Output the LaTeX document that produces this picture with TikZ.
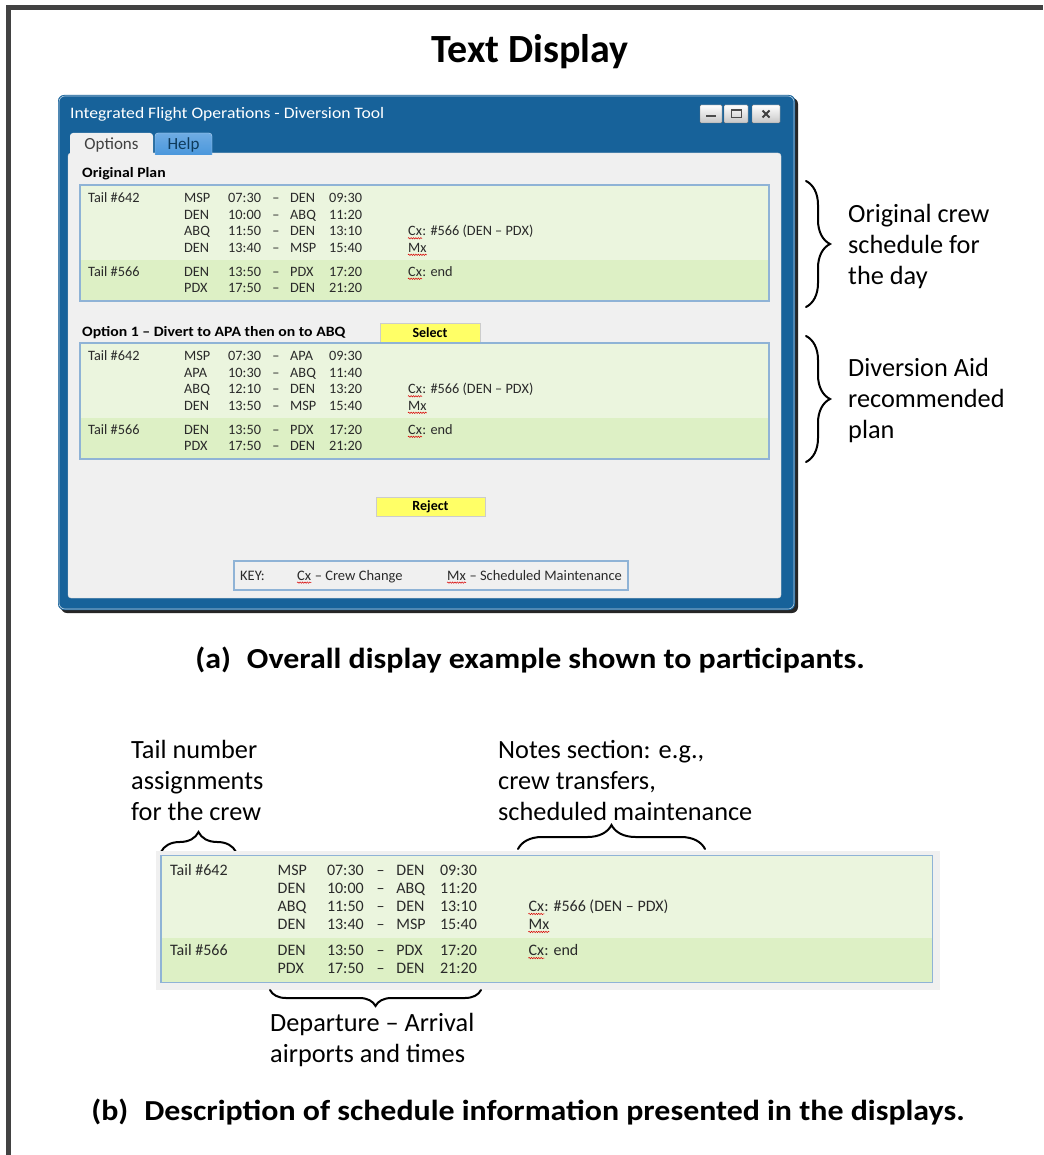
\documentclass[tikz,border=0pt]{standalone}
\usepackage{fontspec}
\setmainfont{Carlito}
\newfontfamily\widefont[FakeStretch=1.1]{Carlito}
\usetikzlibrary{decorations.pathreplacing,decorations.pathmorphing,calc}

\definecolor{framegray}{HTML}{424242}
\definecolor{winblue}{HTML}{17629A}
\definecolor{panelgray}{HTML}{F0F0F0}
\definecolor{rowlight}{HTML}{EBF5DE}
\definecolor{rowdark}{HTML}{DDF0C5}
\definecolor{tableedge}{HTML}{8FB3D6}
\definecolor{btnyellow}{HTML}{FFFF66}
\definecolor{helpblue}{HTML}{4A97DC}
\definecolor{uitext}{HTML}{2A2A2A}

% one flight leg: name, row y, departure, time, arrival, time
\newcommand\legrow[6]{%
  \node[cell] (#1a) at (96,{#2+4.7}) {#3};
  \node[cell] (#1b) at (140,{#2+4.7}) {#4};
  \node[cell, anchor=base] (#1c) at (188,{#2+4.7}) {–};
  \node[cell] (#1d) at (202,{#2+4.7}) {#5};
  \node[cell] (#1e) at (241,{#2+4.7}) {#6};}

% crew change note with spell-check squiggle under "Cx"
\newcommand\cxnote[4]{%
  \node[cell] (#1) at (#2,{#3+4.7}) {Cx};
  \node[cell, anchor=base west] (#1r) at (#1.base east) {#4};
  \draw[squiggle] ($(#1.base west)+(0,2.6)$) -- ($(#1.base east)+(0,2.6)$);}

% maintenance note with squiggle under "Mx"
\newcommand\mxnote[4]{%
  \node[cell] (#1) at (#2,{#3+4.7}) {Mx};
  \node[cell, anchor=base west] (#1r) at (#1.base east) {#4};
  \draw[squiggle] ($(#1.base west)+(0,2.6)$) -- ($(#1.base east)+(0,2.6)$);}

% table frame and row shading in local coordinates
\newcommand\tableback{%
  \fill[rowlight] (-8,-13) rectangle (681,62);
  \fill[rowdark] (-8,62) rectangle (681,103);
  \draw[tableedge, line width=1.2pt] (-8,-13) rectangle (681,103);}

% the original crew schedule, used in the window and in the close-up
\newcommand\originalrows[1]{%
  \tableback
  \node[cell] (#1t1) at (0,4.7) {Tail \#642};
  \legrow{#1r1}{0}{MSP}{07:30}{DEN}{09:30}
  \legrow{#1r2}{16.5}{DEN}{10:00}{ABQ}{11:20}
  \legrow{#1r3}{33}{ABQ}{11:50}{DEN}{13:10}
  \cxnote{#1n1}{320}{33}{: \#566 (DEN – PDX)}
  \legrow{#1r4}{49.5}{DEN}{13:40}{MSP}{15:40}
  \mxnote{#1n2}{320}{49.5}{}
  \node[cell] (#1t2) at (0,78.2) {Tail \#566};
  \legrow{#1r5}{73.5}{DEN}{13:50}{PDX}{17:20}
  \cxnote{#1n3}{320}{73.5}{: end}
  \legrow{#1r6}{90}{PDX}{17:50}{DEN}{21:20}}

\begin{document}
\begin{tikzpicture}[x=1pt,y=-1pt,
  cell/.style={anchor=base west, inner sep=0pt, text=uitext},
  squiggle/.style={red!85!black, line width=0.5pt, decorate,
    decoration={snake, amplitude=0.7pt, segment length=2.4pt}},
  callout/.style={anchor=west, inner sep=0pt, align=left, text=black,
    font=\fontsize{26.3}{31}\selectfont},
  caption/.style={inner sep=0pt, font=\widefont\fontsize{29}{32}\selectfont\bfseries},
  curly/.style={decorate, line width=2pt, line cap=round,
    decoration={brace, amplitude=#1}},
  winbtn/.style={draw=black!55, top color=white, bottom color=black!22,
    minimum height=18pt, inner sep=0pt, rounded corners=1pt},
  yellowbtn/.style={fill=btnyellow, draw=black!20, inner sep=0pt,
    minimum height=19pt, font=\fontsize{14}{14}\selectfont\bfseries},
  header/.style={anchor=west, inner sep=0pt, font=\widefont\fontsize{14.3}{15}\selectfont\bfseries}]

\useasboundingbox (0,0) rectangle (1043,1155);
\fill[white] (0,0) rectangle (1043,1155);

% page frame
\draw[framegray, line width=5pt] (8,1155) -- (8,8) -- (1043,8);

\node[inner sep=0pt, font=\fontsize{40}{44}\selectfont\bfseries] (title) at (530,52) {Text Display};

% ---------- application window ----------
\fill[black!85, rounded corners=6pt] (61,98) rectangle (798,613);
\fill[winblue, rounded corners=6pt] (58,95) rectangle (795,610);
\draw[white!70!winblue, line width=0.6pt, rounded corners=6pt] (59,96) rectangle (794,609);
\node[anchor=west, inner sep=0pt, text=white, font=\widefont\fontsize{16}{17}\selectfont] (wintitle) at (70,114) {Integrated Flight Operations - Diversion Tool};

\node[winbtn, minimum width=22pt] (bmin) at (711,114) {};
\node[winbtn, minimum width=24pt] (bmax) at (736,114) {};
\node[winbtn, minimum width=28pt] (bclose) at (766,114) {};
\fill[black!70] ($(bmin.center)+(-5,1)$) rectangle ($(bmin.center)+(5,3.5)$);
\draw[black!70, line width=1pt] ($(bmax.center)+(-5,-4)$) rectangle ($(bmax.center)+(5,4)$);
\draw[black!70, line width=1.3pt] ($(bmax.center)+(-5,-3.5)$) -- ($(bmax.center)+(5,-3.5)$);
\draw[black!75, line width=2pt] ($(bclose.center)+(-3.5,-3.5)$) -- ($(bclose.center)+(3.5,3.5)$)
  ($(bclose.center)+(-3.5,3.5)$) -- ($(bclose.center)+(3.5,-3.5)$);

% content panel and tabs
\fill[panelgray, rounded corners=3pt] (68,153) rectangle (781,598);
\draw[black!15, rounded corners=3pt] (68,153) rectangle (781,598);
\fill[panelgray] (70,156) [rounded corners=3pt] -- (70,133) -- (153,133) [sharp corners] -- (153,156) -- cycle;
\draw[top color=helpblue!80!white, bottom color=helpblue, draw=white!60!helpblue]
  (155,155) [rounded corners=3pt] -- (155,133) -- (212,133) [sharp corners] -- (212,155);
\node[inner sep=0pt, text=black!75, font=\fontsize{17}{17}\selectfont] (taboptions) at (111.5,145) {Options};
\node[inner sep=0pt, text=winblue!60!black, font=\fontsize{17}{17}\selectfont] (tabhelp) at (183.5,145) {Help};

\node[header] (hdrorig) at (82,174) {Original Plan};

\begin{scope}[shift={(88,198)}, font=\fontsize{14.3}{15}\selectfont]
  \originalrows{w}
\end{scope}

\node[header] (hdropt) at (82,333) {Option 1 – Divert to APA then on to ABQ};
\node[yellowbtn, minimum width=100pt] (select) at (430,333) {Select};

\begin{scope}[shift={(88,356)}, font=\fontsize{14.3}{15}\selectfont]
  \tableback
  \node[cell] (pt1) at (0,4.7) {Tail \#642};
  \legrow{pr1}{0}{MSP}{07:30}{APA}{09:30}
  \legrow{pr2}{16.5}{APA}{10:30}{ABQ}{11:40}
  \legrow{pr3}{33}{ABQ}{12:10}{DEN}{13:20}
  \cxnote{pn1}{320}{33}{: \#566 (DEN – PDX)}
  \legrow{pr4}{49.5}{DEN}{13:50}{MSP}{15:40}
  \mxnote{pn2}{320}{49.5}{}
  \node[cell] (pt2) at (0,78.2) {Tail \#566};
  \legrow{pr5}{73.5}{DEN}{13:50}{PDX}{17:20}
  \cxnote{pn3}{320}{73.5}{: end}
  \legrow{pr6}{90}{PDX}{17:50}{DEN}{21:20}
\end{scope}

\node[yellowbtn, minimum width=109pt] (reject) at (430.5,507) {Reject};

% key
\node[draw=tableedge, fill=panelgray, line width=1.2pt, minimum width=394pt,
  minimum height=29pt, inner sep=0pt] (keybox) at (431,575.5) {};
\begin{scope}[font=\fontsize{14.5}{15}\selectfont]
  \node[cell] (keylbl) at (240,580) {KEY:};
  \cxnote{kcx}{297}{575.3}{\ – Crew Change}
  \mxnote{kmx}{447}{575.3}{\ – Scheduled Maintenance}
\end{scope}

% ---------- callouts beside the window ----------
\coordinate (b1t) at (806,181);
\coordinate (b1b) at (806,307);
\draw[curly=24pt] (b1t) -- (b1b);
\node[callout] (origcall) at (848,246) {Original crew\\schedule for\\the day};

\coordinate (b2t) at (806,336);
\coordinate (b2b) at (806,462);
\draw[curly=24pt] (b2t) -- (b2b);
\node[callout] (aidcall) at (848,400) {Diversion Aid\\recommended\\plan};

\node[caption] (capa) at (530,660) {(a)\hspace{0.55em}Overall display example shown to participants.};

% ---------- close-up of one schedule ----------
\node[callout] (tailcall) at (131,780) {Tail number\\assignments\\for the crew};
\node[callout] (notecall) at (498,780) {Notes section: e.g.,\\crew transfers,\\scheduled maintenance};

\coordinate (b3l) at (161,852);
\coordinate (b3r) at (236,852);
\draw[curly=20pt] (b3l) -- (b3r);
\coordinate (b4l) at (518,849);
\coordinate (b4r) at (705,849);
\draw[curly=24pt] (b4l) -- (b4r);

\fill[black!6] (156,851) rectangle (940,990);
\begin{scope}[shift={(170,870)}, x=1.12pt, y=-1.09pt, font=\fontsize{16}{17}\selectfont]
  \originalrows{c}
\end{scope}

\coordinate (b5r) at (481,990);
\coordinate (b5l) at (270,990);
\draw[curly=16pt] (b5r) -- (b5l);
\node[callout] (depcall) at (270,1040) {Departure – Arrival\\airports and times};

\node[caption] (capb) at (528,1112) {(b)\hspace{0.55em}Description of schedule information presented in the displays.};

\end{tikzpicture}
\end{document}
